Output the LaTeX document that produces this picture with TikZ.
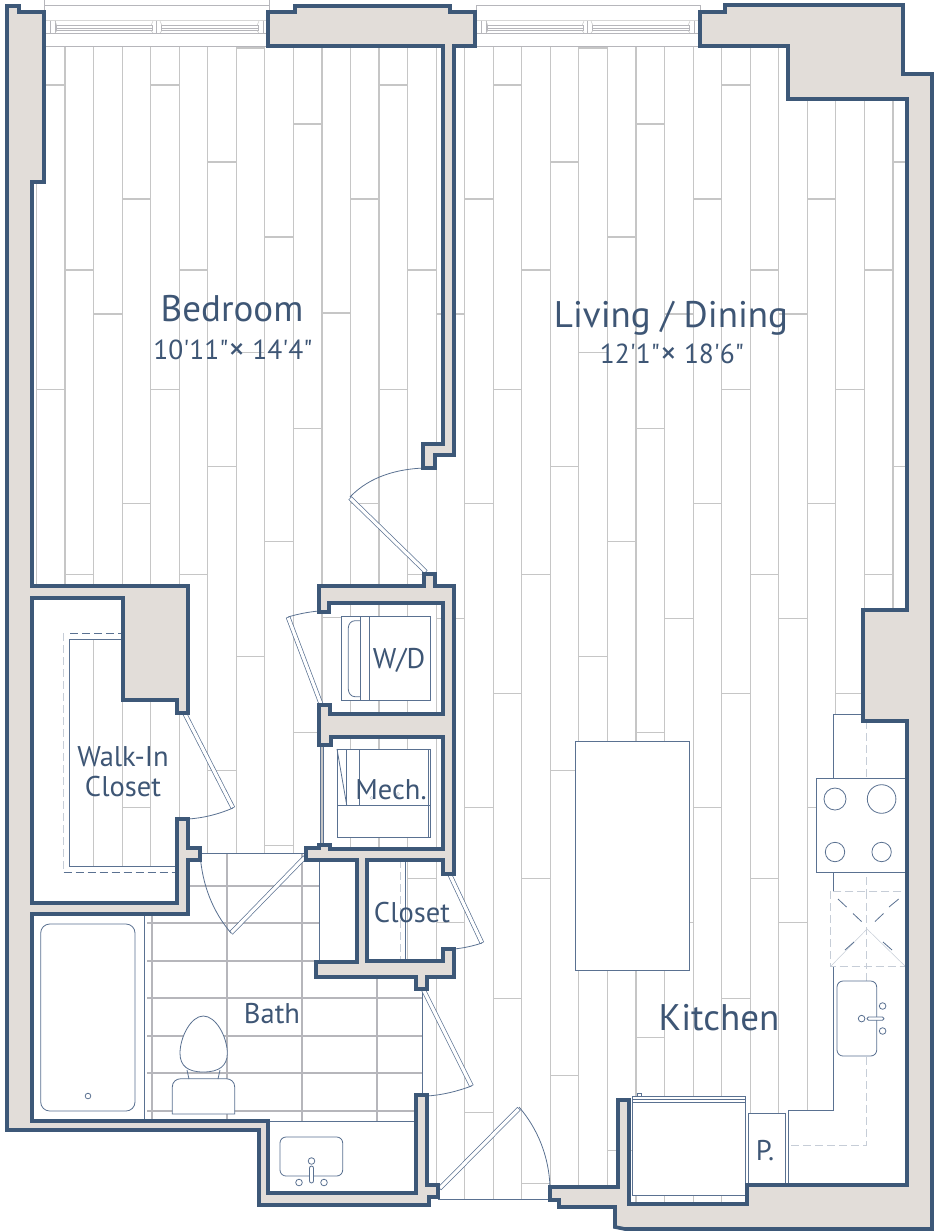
\documentclass[tikz,border=0pt]{standalone}
\usepackage{fontspec}
\newfontfamily\planfont{PT Sans}
\newcommand{\dimx}{{\fontsize{33}{30}\selectfont\raisebox{-1pt}{×}}}

\definecolor{wallblue}{HTML}{3D5878}
\definecolor{wallfill}{HTML}{E2DDD9}
\definecolor{thinblue}{HTML}{5A7191}
\definecolor{palegray}{HTML}{C6C6C6}
\definecolor{tilegray}{HTML}{B6B6BB}
\definecolor{paledash}{HTML}{C6CDD7}
\definecolor{textblue}{HTML}{3E5675}

\tikzset{
  wallshape/.style={fill=wallfill,draw=wallblue,line width=3.6pt,miter limit=10},
  plankline/.style={draw=palegray,line width=1.15pt},
  tileline/.style={draw=tilegray,line width=1.4pt},
  thinline/.style={draw=thinblue,line width=.8pt},
  fixture/.style={draw=thinblue,line width=.8pt,fill=white},
  doorleaf/.style={draw=thinblue,line width=4.6pt,postaction={draw=white,line width=3.2pt,shorten <=.7pt,shorten >=.7pt}},
  paledashes/.style={draw=paledash,line width=.9pt,dash pattern=on 8pt off 4pt},
  planlabel/.style={anchor=base,inner sep=0pt,text=textblue,font=\planfont\fontsize{28.5}{30}\selectfont},
  sizelabel/.style={planlabel,font=\planfont\fontsize{27.5}{30}\selectfont},
  biglabel/.style={planlabel,font=\planfont\fontsize{37}{40}\selectfont}
}

\begin{document}
\begin{tikzpicture}[x=1pt,y=-1pt]
  \useasboundingbox (0,0) rectangle (937,1232);

  % planks
  \begin{scope}
    \clip (36,46) rectangle (905,1204);
    \foreach \k in {-1,...,30}
      \draw[plankline] ({65+28.55*\k},46) -- ({65+28.55*\k},1204);
    \foreach \k/\y in {-1/85,0/270,1/314,2/199,3/85,4/270,5/162,6/48,7/237,8/124,9/313,10/199,
        11/85,12/270,13/314,14/199,15/85,16/270,17/162,18/48,19/237,20/124,21/314,22/199,
        23/85,24/270,25/314,26/199,27/85,28/270,29/162}
      \foreach \r in {0,1,2,3}
        \draw[plankline] ({65+28.55*\k},{\y+304.4*\r}) -- ({65+28.55*(\k+1)},{\y+304.4*\r});
  \end{scope}

  % rooms without planks
  \fill[white] (32,914) -- (188,914) -- (188,853) -- (319,853) -- (319,977) -- (422,977)
    -- (422,1193) -- (268,1193) -- (268,1232) -- (0,1232) -- (0,914) -- cycle;
  \fill[white] (32,598) rectangle (69,903);
  \fill[white] (69,598) rectangle (123,639.5);
  \fill[white] (69,866) rectangle (177,903);
  \fill[white] (319,860) rectangle (405,961);
  \fill[white] (430,1199) rectangle (555,1232);
  \fill[white] (833,714) -- (907,714) -- (907,1185) -- (788,1185) -- (788,1110.5) -- (833,1110.5) -- cycle;

  % bath tiles
  \begin{scope}
    \clip (147,914) -- (188,914) -- (188,853) -- (319,853) -- (319,977) -- (422,977) -- (422,1121) -- (147,1121) -- cycle;
    \foreach \x in {152,227,302,377}
      \draw[tileline] (\x,853) -- (\x,1121);
    \foreach \y in {886,923,961,998,1036,1073,1111}
      \draw[tileline] (147,\y) -- (422,\y);
  \end{scope}

  % thresholds and shelves
  \draw[thinline] (188,853) -- (306,853);
  \draw[thinline] (319,860) -- (319,962);
  \draw[thinline] (422,989) -- (422,1095);
  \draw[thinline] (268,1121) -- (416,1121);
  \draw[thinline] (438,1199) -- (550,1199);
  \draw[thinline] (144,914) -- (144,1121);
  \draw[thinline] (320,745) -- (320,845);
  \draw[thinline] (323,745) -- (323,845);
  \draw[thinline] (405.5,860) -- (405.5,961);
  \draw[paledashes] (400,860) -- (400,961);
  \draw[thinline] (123,639.5) -- (69,639.5) -- (69,866) -- (177,866);
  \draw[paledashes] (63.5,633) -- (63.5,872);
  \draw[thinline,dash pattern=on 8pt off 4pt] (70,633) -- (123,633);
  \draw[thinline,dash pattern=on 8pt off 4pt] (63.5,872) -- (177,872);

  % windows
  \draw[draw=tilegray,line width=.8pt] (44,0) -- (44,12);
  \draw[draw=tilegray,line width=.8pt] (269,0) -- (269,12);
  \draw[draw=tilegray,line width=.8pt] (44,5) -- (269,5);
  \draw[draw=tilegray,line width=.8pt] (476,5) -- (700,5) -- (700,12);
  \draw[draw=tilegray,line width=.8pt] (476,5) -- (476,12);
  \foreach \dx in {0,431} {
    \begin{scope}[shift={(\dx,0)}]
      \draw[draw=palegray!70,line width=1.6pt] (46,20.5) -- (268,20.5);
      \draw[draw=tilegray,line width=.8pt] (44,33.5) -- (268,33.5);
      \draw[draw=tilegray,line width=.8pt] (44,46) -- (268,46);
      \foreach \x in {50.5,55,156.5,263}
        \draw[draw=tilegray,line width=.7pt] (\x,20.5) -- (\x,33.5);
      \foreach \a/\b in {56/152,161/258} {
        \draw[draw=tilegray,line width=.7pt] (\a,25.5) rectangle (\b,30.5);
        \draw[draw=tilegray,line width=1.6pt] (\a,28.5) -- (\b,28.5);
        \draw[draw=palegray,line width=.5pt] (\a-1,21) -- (\a+1,25.5);
        \draw[draw=palegray,line width=.5pt] (\a-1,33) -- (\a+1,30.5);
        \draw[draw=palegray,line width=.5pt] (\b+1,21) -- (\b-1,25.5);
        \draw[draw=palegray,line width=.5pt] (\b+1,33) -- (\b-1,30.5);
      }
    \end{scope}
  }

  % washer and dryer
  \draw[fixture] (341,616.7) rectangle (430.7,700);
  \draw[thinline] (360,616.7) -- (360,700);
  \draw[thinline] (369,616.7) -- (369,700);
  \draw[thinline] (360,620.7) -- (355,620.7) to[out=180,in=90] (348.3,628) -- (348.3,689) to[out=-90,in=180] (355,696.7) -- (360,696.7);

  % mech
  \draw[fixture] (337,749) rectangle (430,837);
  \draw[thinline] (337,805) -- (430,805);
  \draw[thinline] (346.7,749) -- (346.7,805);
  \draw[thinline] (359,749) -- (359,805);
  \draw[thinline] (337,749) -- (346.7,805);
  \draw[thinline] (428,749) -- (428,837);
  \draw[paledash,line width=.6pt] (371.7,798) circle (1.6);
  \draw[paledash,line width=.6pt] (398,794) circle (1.6);

  % tub and toilet
  \draw[fixture,rounded corners=9pt] (40.7,924) rectangle (135,1111);
  \draw[thinline] (88,1096) circle (2.8);
  \draw[fixture] (172.3,1114) -- (172.3,1087) .. controls (172.3,1082) and (176,1078.7) .. (181,1078.7)
    -- (226,1078.7) .. controls (231,1078.7) and (234.7,1082) .. (234.7,1087) -- (234.7,1114) -- cycle;
  \draw[thinline] (187,1070) -- (189,1079);
  \draw[thinline] (220,1070) -- (218,1079);
  \draw[fixture] (203.3,1016) .. controls (191,1016) and (180,1037) .. (180,1053.3)
    .. controls (180,1066) and (188,1072) .. (203.3,1072)
    .. controls (219,1072) and (227.3,1066) .. (227.3,1053.3)
    .. controls (227.3,1037) and (216,1016) .. (203.3,1016) -- cycle;

  % vanity
  \draw[fixture,rounded corners=6pt] (280,1137) rectangle (342.7,1176);
  \draw[thinline] (311.5,1161) circle (3.3);
  \draw[fixture,rounded corners=2pt] (309.5,1166) rectangle (313.5,1183);
  \draw[thinline] (299,1182.5) circle (3.3);
  \draw[thinline] (324,1182.5) circle (3.3);

  % kitchen
  \draw[fixture] (575.5,741) rectangle (689,970);
  \draw[thinline] (907,714) -- (833,714) -- (833,1110.5) -- (788,1110.5) -- (788,1185);
  \draw[paledashes] (866.7,721) -- (866.7,1145) -- (788,1145);
  \draw[fixture] (816,778) rectangle (907,872);
  \draw[thinline] (835,799) circle (11);
  \draw[thinline] (881.6,799) circle (14.3);
  \draw[thinline] (835,852) circle (9.7);
  \draw[thinline] (881.6,852) circle (9.7);
  \draw[fill=white,draw=none] (831,891) rectangle (905,966);
  \draw[paledashes] (830.7,891) rectangle (905,966);
  \draw[paledashes] (866.7,891) -- (866.7,966);
  \draw[draw=paledash,line width=.5pt] (831,966) -- (867,929) -- (905,966);
  \foreach \ax/\ay/\bx/\by in {838/899/846.5/907,853/913.5/861.5/921.5,845/950/854/942,883/942/892/950,889/907/898.7/899,875/921.5/883.5/913.5}
    \draw[thinline] (\ax,\ay) -- (\bx,\by);
  \draw[fixture,rounded corners=6pt] (837,981) rectangle (876.7,1056);
  \draw[thinline] (861.6,1018.6) circle (3.3);
  \draw[thinline] (882.6,1006) circle (3.3);
  \draw[thinline] (882.6,1031) circle (3.3);
  \draw[fixture,rounded corners=1.5pt] (867,1017) rectangle (884,1020.2);
  \draw[fixture] (748,1113) rectangle (785,1185);
  \draw[thinline] (788,1113) -- (788,1185);
  \draw[fixture] (632.6,1096.4) rectangle (745,1195);
  \draw[thinline] (632.6,1099.6) -- (745,1099.6);
  \draw[thinline,line width=1.1pt] (632.6,1102.5) -- (745,1102.5);
  \draw[fixture] (637,1093) rectangle (641,1096.4);

  % doors
  \draw[doorleaf] (426,572) -- (350,498);
  \draw[thinline] (350,497) .. controls (370,476) and (398,469) .. (424,468);
  \draw[doorleaf] (321,704) -- (288,617);
  \draw[thinline] (288,617) .. controls (298,614) and (308,612) .. (319,611);
  \draw[doorleaf] (185,714) -- (233,808);
  \draw[thinline] (233,808) .. controls (219,814) and (204,818) .. (188,819);
  \draw[doorleaf] (305,857) -- (231,933);
  \draw[thinline] (200,853) .. controls (202,885) and (213,912) .. (231,933);
  \draw[doorleaf] (450,875) -- (482,943);
  \draw[thinline] (482,943) .. controls (473,946) and (464,948) .. (454,949);
  \draw[doorleaf] (423.5,990) -- (471.5,1086);
  \draw[thinline] (471.5,1086) .. controls (458,1091) and (443,1095) .. (427,1096);
  \draw[doorleaf] (439.6,1188.6) -- (519,1108.5);
  \draw[thinline] (519,1107) .. controls (538,1129) and (549,1157) .. (550,1187);

  % walls
  \draw[wallshape] (7,6) -- (19,6) -- (19,12) -- (44,12) -- (44,182) -- (32,182) -- (32,586)
    -- (188,586) -- (188,713) -- (177,713) -- (177,700) -- (123,700) -- (123,598) -- (32,598)
    -- (32,903) -- (177,903) -- (177,819) -- (188,819) -- (188,848) -- (200,848) -- (200,860)
    -- (188,860) -- (188,914) -- (32,914) -- (32,1121) -- (268,1121) -- (268,1193) -- (416,1193)
    -- (416,1095) -- (427,1095) -- (427,1185) -- (438,1185) -- (438,1197) -- (429,1197)
    -- (429,1205) -- (259,1205) -- (259,1130) -- (7,1130) -- cycle;
  \draw[wallshape] (268,12) -- (295,12) -- (295,6) -- (450,6) -- (450,12) -- (475,12) -- (475,46)
    -- (454,46) -- (454,455) -- (435,455) -- (435,468) -- (423,468) -- (423,444) -- (443,444)
    -- (443,46) -- (268,46) -- cycle;
  \draw[wallshape] (424,574) -- (435,574) -- (435,586) -- (454,586) -- (454,874) -- (443,874)
    -- (443,860) -- (367,860) -- (367,961) -- (443,961) -- (443,949) -- (454,949) -- (454,977)
    -- (427,977) -- (427,989) -- (416,989) -- (416,977) -- (316,977) -- (316,962) -- (357,962)
    -- (357,860) -- (306,860) -- (306,848) -- (319,848) -- (319,845) -- (330,845) -- (330,849)
    -- (443,849) -- (443,737) -- (331,737) -- (331,745) -- (319,745) -- (319,705) -- (330,705)
    -- (330,714) -- (443,714) -- (443,603) -- (329,603) -- (329,612) -- (319,612) -- (319,586)
    -- (424,586) -- cycle;
  \draw[wallshape] (700,12) -- (725,12) -- (725,5) -- (903,5) -- (903,74) -- (932,74) -- (932,1229)
    -- (625,1229) -- (615,1227) -- (615,1207) -- (559,1207) -- (559,1200) -- (550,1200) -- (550,1187)
    -- (618,1187) -- (618,1100) -- (629,1100) -- (629,1204) -- (747,1204) -- (747,1185) -- (907,1185)
    -- (907,721) -- (863,721) -- (863,610) -- (907,610) -- (907,99) -- (788,99) -- (788,46)
    -- (700,46) -- cycle;

  % labels
  \node[biglabel] (bedroom) at (232,321) {Bedroom};
  \node[sizelabel] (bedroomsize) at (233,359) {10'11"\dimx{} 14'4"};
  \node[biglabel] (living) at (671,327) {Living / Dining};
  \node[sizelabel] (livingsize) at (672,363) {12'1"\dimx{} 18'6"};
  \node[biglabel] (kitchen) at (719,1030) {Kitchen};
  \node[planlabel] (wd) at (399,668) {W/D};
  \node[planlabel] (mech) at (391,799) {Mech.};
  \node[planlabel] (closet) at (412,922) {Closet};
  \node[planlabel] (walkin) at (123,766) {Walk-In};
  \node[planlabel] (walkincloset) at (123,796) {Closet};
  \node[planlabel] (bath) at (272,1023) {Bath};
  \node[planlabel] (pantry) at (765,1160) {P.};
\end{tikzpicture}
\end{document}
